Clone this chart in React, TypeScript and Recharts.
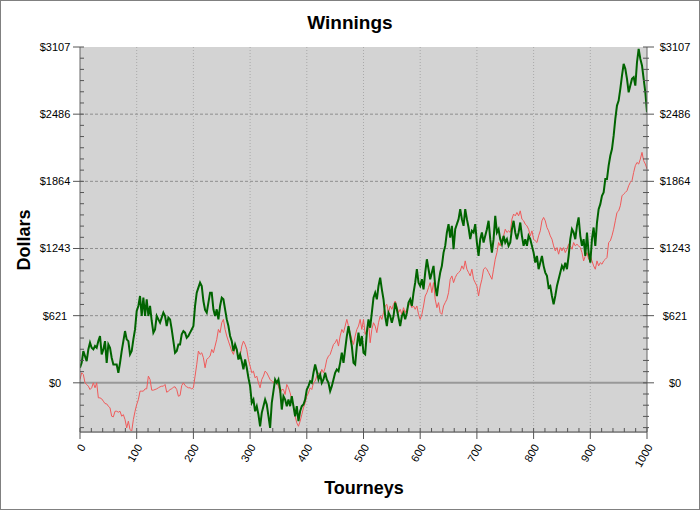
import React from "react";
import { LineChart, Line, XAxis, YAxis, ReferenceLine, ReferenceArea } from "recharts";

// cumulative winnings, one reading about every 3 tourneys (341 points, 0..1000)
const GREEN = [
  139, 185, 294, 247, 201, 309, 371, 324, 309, 340, 324, 386, 433, 263, 309, 386, 185, 355, 324, 232,
  170, 170, 170, 93, 185, 294, 386, 479, 402, 386, 263, 294, 402, 494, 664, 711, 803, 618, 788, 618,
  773, 618, 711, 572, 464, 494, 618, 587, 556, 603, 649, 618, 525, 603, 587, 494, 386, 278, 294, 355,
  355, 448, 479, 464, 417, 433, 464, 494, 525, 711, 834, 881, 927, 896, 757, 674, 649, 742, 834, 834,
  680, 618, 680, 587,
  711, 788, 773, 680, 587, 525, 433, 386, 294, 355, 309, 216, 263, 201, 124, 216, 139, 46, -31, -185,
  -155, -263, -216, -294, -402, -278, -216, -155, -201, -309, -417, -185, -77, 31, 0, 31, -62, -247, -124, -155,
  -216, -155, -216, -124, -216, -309, -216, -355, -263, -216, -201, -155, -62, -31, 15, 0, 93, 170, 108, 31,
  77, 0, 31, 93, 31, 0, -77, -31, 31, 93, 124, 108, 185, 278, 185, 309, 433, 525, 433, 340,
  185, 170, 340, 464, 340, 433, 278,
  263, 464, 587, 510, 649, 788, 834, 773, 896, 973, 865, 773, 618, 525, 649, 618, 556, 618, 742, 680,
  603, 525, 618, 649, 587, 649, 742, 773, 711, 834, 927, 1051, 927, 896, 958, 865, 1020, 1143, 1051, 958,
  1020, 1082, 896, 803, 927, 1020, 1082, 1205, 1267, 1391, 1468, 1344, 1452, 1236, 1421, 1468, 1514, 1607, 1514, 1452,
  1607, 1514, 1437, 1329, 1406, 1391, 1468, 1298, 1174, 1329, 1391, 1298, 1360, 1421, 1499, 1329, 1205, 1329, 1545, 1391,
  1421, 1329, 1282, 1360, 1298, 1329, 1267,
  1298, 1421, 1499, 1391, 1329, 1391, 1483, 1360, 1267, 1329, 1267, 1360, 1329, 1267, 1205, 1112, 1174, 1051, 1112, 1174,
  1082, 1020, 989, 881, 896, 803, 726, 803, 896, 958, 1020, 1082, 1051, 1112, 1051, 1174, 1329, 1421, 1391, 1329,
  1452, 1530, 1360, 1267, 1329, 1174, 1391, 1205, 1112, 1329, 1437, 1267, 1483, 1607, 1653, 1730, 1761, 1885, 1885, 2009,
  2101, 2163, 2287, 2441, 2565, 2611, 2719, 2843, 2951, 2905, 2812, 2688, 2750, 2812, 2827, 2750, 2966, 3090, 2997, 2936,
  2812, 2688, 2503,
];

const RED = [
  31, 93, 77, 0, -15, -31, -62, -46, 0, -46, 0, -139, -139, -148, -170, -192, -195, -216, -232, -309,
  -315, -263, -263, -272, -263, -309, -294, -340, -417, -355, -433, -448, -340, -263, -201, -155, -77, -77, -77, -56,
  -56, 62, 31, -68, -68, -62, -56, -46, -37, -31, -31, -15, -87, -77, -62, -56, -40, -37, -62, -124,
  -117, -25, 0, -25, -37, -46, -46, -56, -46, 62, 170, 294, 263, 278, 232, 139, 216, 232, 247, 309,
  278, 340, 402, 494,
  464, 556, 587, 494, 433, 386, 340, 294, 263, 324, 309, 232, 247, 340, 386, 355, 309, 216, 155, 93,
  108, 46, 62, 0, -46, 31, 62, 108, 93, 62, 31, 15, 0, 31, 0, -31, -93, -62, -62, -108,
  -15, -46, -93, -155, -216, -309, -371, -402, -355, -294, -232, -185, -124, -93, -46, -62, 0, 15, 62, 93,
  62, 124, 93, 139, 216, 247, 263, 309, 355, 371, 402, 340, 433, 494, 464, 525, 587, 525, 464, 402,
  355, 433, 494, 525, 587, 494, 587,
  448, 494, 572, 371, 494, 556, 525, 464, 556, 618, 587, 649, 711, 726, 649, 711, 680, 726, 757, 711,
  649, 680, 633, 695, 649, 680, 711, 742, 695, 711, 680, 711, 633, 587, 633, 711, 803, 834, 881, 927,
  834, 927, 773, 695, 742, 649, 633, 711, 742, 773, 834, 958, 989, 927, 973, 1004, 1020, 1035, 1082, 1051,
  1128, 1051, 1020, 989, 1051, 958, 927, 896, 803, 896, 958, 1051, 1066, 1051, 1020, 989, 958, 1051, 1143, 1205,
  1298, 1267, 1329, 1360, 1421, 1391, 1406,
  1391, 1514, 1561, 1545, 1576, 1545, 1591, 1514, 1499, 1468, 1452, 1421, 1360, 1406, 1329, 1313, 1298, 1360, 1406, 1499,
  1530, 1499, 1437, 1406, 1360, 1329, 1267, 1221, 1251, 1190, 1251, 1221, 1251, 1205, 1236, 1282, 1267, 1236, 1298, 1267,
  1282, 1267, 1251, 1205, 1128, 1174, 1205, 1143, 1174, 1128, 1082, 1051, 1128, 1082, 1112, 1097, 1128, 1143, 1159, 1298,
  1313, 1360, 1421, 1499, 1576, 1591, 1638, 1730, 1746, 1761, 1777, 1823, 1854, 1870, 1947, 2009, 2039, 2024, 2070, 2132,
  2055, 2024, 1978,
];

const X_MAX = 1000;
const Y_MAX = 3107;
const Y_MIN = -455;
const X_TICKS = Array.from({ length: 51 }, (_, i) => i * 20);
const X_GRID = [100, 200, 300, 400, 500, 600, 700, 800, 900];
const Y_TICKS = Array.from({ length: 35 }, (_, i) => ((i - 4) * Y_MAX) / 30);
const Y_GRID = [1, 2, 3, 4].map((k) => (k * Y_MAX) / 5);

const FONT = "'Liberation Sans', Arial, sans-serif";
const TICK_COLOR = "#555";

const data = GREEN.map((g, i) => ({ t: (i * X_MAX) / (GREEN.length - 1), green: g, red: RED[i] }));

const isMajorY = (v: number) => {
  const r = v / (Y_MAX / 5);
  return Math.abs(r - Math.round(r)) < 1e-6;
};
const dollars = (v: number) => "$" + Math.round(v);

const BottomTick = ({ x, y, payload }: any) => {
  const major = payload.value % 100 === 0;
  const ax = x + 6;
  const ay = y + 15;
  return (
    <g>
      <line x1={x} x2={x} y1={y - 4} y2={major ? y + 7 : y} stroke={TICK_COLOR} />
      {major && (
        <text
          x={ax}
          y={ay}
          textAnchor="end"
          fontSize={11}
          fontFamily={FONT}
          fill="#000"
          transform={`rotate(-60, ${ax}, ${ay})`}
        >
          {payload.value}
        </text>
      )}
    </g>
  );
};

const TopTick = ({ x, y }: any) => <line x1={x} x2={x} y1={y} y2={y + 4} stroke={TICK_COLOR} />;

const LeftTick = ({ x, y, payload }: any) => {
  const major = isMajorY(payload.value);
  return (
    <g>
      <line x1={major ? x - 7 : x} x2={x + 4} y1={y} y2={y} stroke={TICK_COLOR} />
      {major && (
        <text x={x - 25} y={y} dy="0.35em" textAnchor="middle" fontSize={11} fontFamily={FONT} fill="#000">
          {dollars(payload.value)}
        </text>
      )}
    </g>
  );
};

const RightTick = ({ x, y, payload }: any) => {
  const major = isMajorY(payload.value);
  return (
    <g>
      <line x1={x - 4} x2={major ? x + 7 : x + 2} y1={y} y2={y} stroke={TICK_COLOR} />
      {major && (
        <text x={x + 28} y={y} dy="0.35em" textAnchor="middle" fontSize={11} fontFamily={FONT} fill="#000">
          {dollars(payload.value)}
        </text>
      )}
    </g>
  );
};

export default function App() {
  return (
    <div style={{ position: "absolute", left: 0, top: 0, width: 700, height: 510, background: "#fff" }}>
      <LineChart width={700} height={510} data={data} margin={{ top: 47, right: 0, bottom: 0, left: 0 }}>
        <XAxis
          dataKey="t"
          type="number"
          domain={[0, X_MAX]}
          ticks={X_TICKS}
          interval={0}
          allowDataOverflow
          height={78}
          tickSize={0}
          tickMargin={0}
          tickLine={false}
          tick={<BottomTick />}
          axisLine={{ stroke: "#909090", strokeWidth: 2 }}
        />
        <XAxis
          xAxisId="top"
          orientation="top"
          dataKey="t"
          type="number"
          domain={[0, X_MAX]}
          ticks={X_TICKS}
          interval={0}
          allowDataOverflow
          height={0}
          tickSize={0}
          tickMargin={0}
          tickLine={false}
          tick={<TopTick />}
          axisLine={{ stroke: "#888" }}
        />
        <YAxis
          type="number"
          domain={[Y_MIN, Y_MAX]}
          ticks={Y_TICKS}
          interval={0}
          allowDataOverflow
          width={80}
          tickSize={0}
          tickMargin={0}
          tickLine={false}
          tick={<LeftTick />}
          axisLine={{ stroke: "#666" }}
        />
        <YAxis
          yAxisId="right"
          orientation="right"
          type="number"
          domain={[Y_MIN, Y_MAX]}
          ticks={Y_TICKS}
          interval={0}
          allowDataOverflow
          width={53}
          tickSize={0}
          tickMargin={0}
          tickLine={false}
          tick={<RightTick />}
          axisLine={{ stroke: "#666" }}
        />
        <ReferenceArea x1={0} x2={X_MAX} y1={Y_MIN} y2={Y_MAX} fill="#d3d3d3" fillOpacity={1} stroke="none" />
        {X_GRID.map((v) => (
          <ReferenceLine key={"x" + v} x={v} stroke="#a9a9a9" strokeDasharray="1 2" />
        ))}
        {Y_GRID.map((v) => (
          <ReferenceLine key={"y" + v} y={v} stroke="#8e8e8e" strokeDasharray="3 2" />
        ))}
        <ReferenceLine y={0} stroke="#989898" strokeWidth={2} />
        <Line dataKey="red" type="linear" stroke="#f05a5a" strokeWidth={1} dot={false} isAnimationActive={false} />
        <Line dataKey="green" type="linear" stroke="#006400" strokeWidth={2} dot={false} isAnimationActive={false} />
      </LineChart>
      <svg width={700} height={510} style={{ position: "absolute", left: 0, top: 0, pointerEvents: "none" }}>
        <rect x={0.5} y={0.5} width={699} height={509} fill="none" stroke="#808080" />
        <text x={350} y={29} textAnchor="middle" fontSize={19} fontWeight="bold" fontFamily={FONT}>
          Winnings
        </text>
        <text
          x={24}
          y={240}
          textAnchor="middle"
          dy="0.35em"
          fontSize={18}
          fontWeight="bold"
          fontFamily={FONT}
          transform="rotate(-90, 24, 240)"
        >
          Dollars
        </text>
        <text x={364} y={494} textAnchor="middle" fontSize={18} fontWeight="bold" fontFamily={FONT}>
          Tourneys
        </text>
      </svg>
    </div>
  );
}
